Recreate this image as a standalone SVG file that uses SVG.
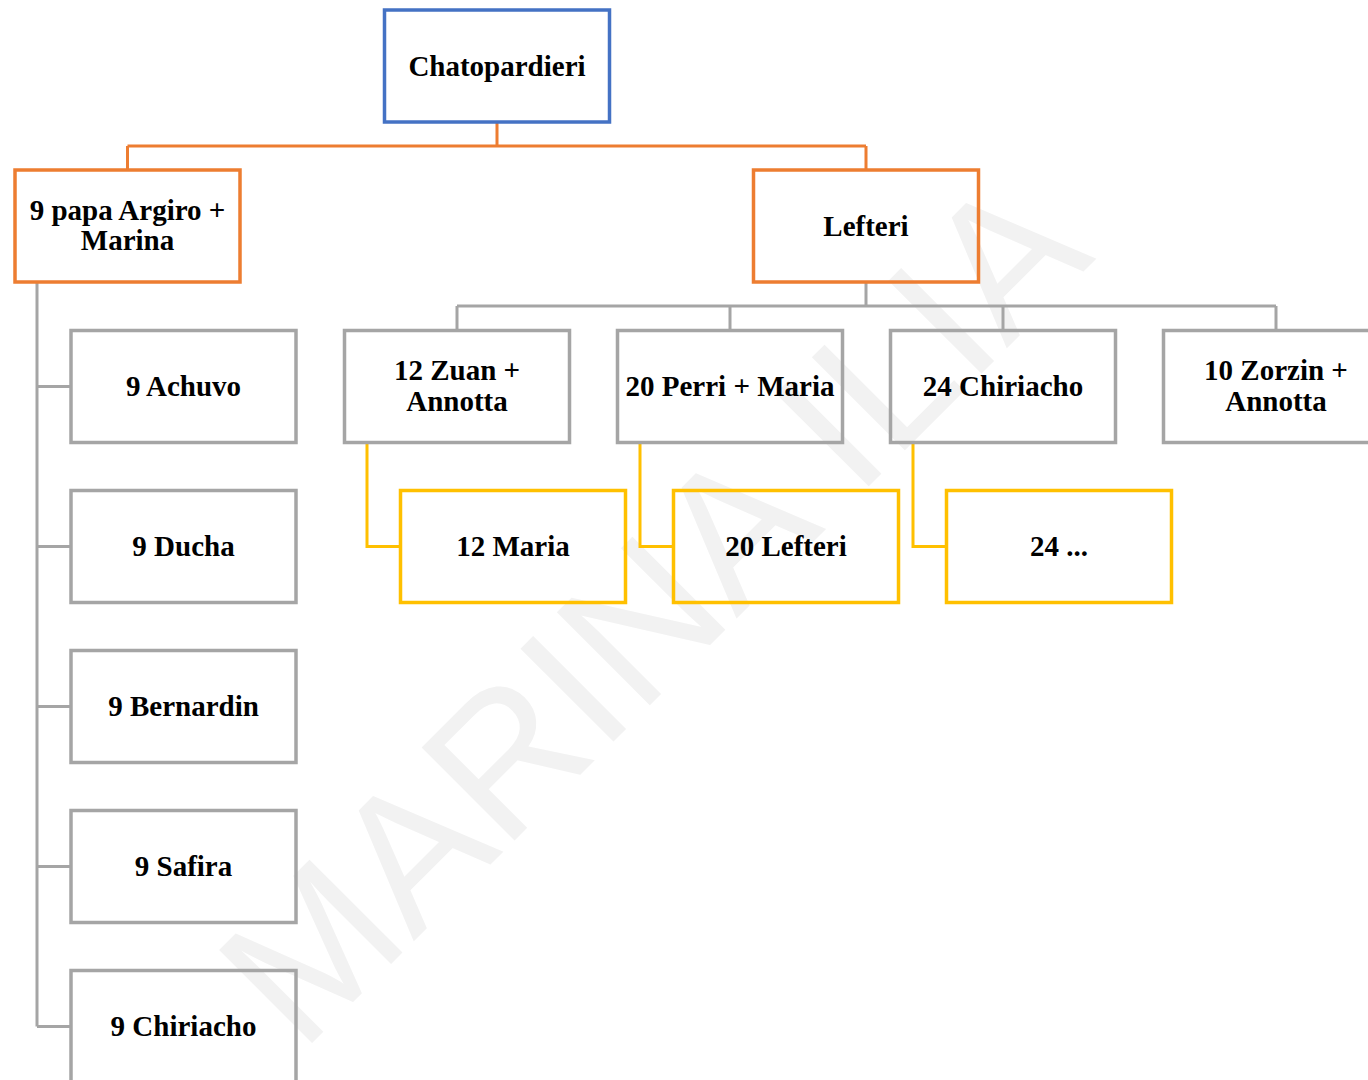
<svg xmlns="http://www.w3.org/2000/svg" width="1368" height="1080" viewBox="0 0 1368 1080">
<style>
.box{fill:none;stroke-width:3.5}
.blue{stroke:#4472C4}
.orange{stroke:#ED7D31}
.gray{stroke:#A5A5A5}
.yellow{stroke:#FFC000}
.lbl{font-family:"Liberation Serif","Times New Roman",serif;font-weight:bold;font-size:29px;fill:#000;text-anchor:middle}
.wm{font-family:"Liberation Sans",Arial,sans-serif;font-size:191px;fill:#f2f2f2}
.con{fill:none;stroke-width:3}
</style>
<rect width="1368" height="1080" fill="#fff"/>
<text class="wm" x="301" y="1054" transform="rotate(-45 301 1054)">MARINA ILIA</text>
<g id="connectors">
<path class="con orange" d="M497 122 V146 M127.5 146 H866 M127.5 146 V170 M866 146 V170"/>
<path class="con gray" d="M37 282 V1026.5 M37 386.5 H71 M37 546.5 H71 M37 706.5 H71 M37 866.5 H71 M37 1026.5 H71"/>
<path class="con gray" d="M866 282 V306 M457 306 H1276 M457 306 V330.5 M730 306 V330.5 M1003 306 V330.5 M1276 306 V330.5"/>
<path class="con yellow" d="M367 442.5 V546.5 H400.5 M640 442.5 V546.5 H673.5 M913 442.5 V546.5 H946.5"/>
</g>
<g id="root"><rect class="box blue" x="384.5" y="10" width="225" height="112"/><text class="lbl" x="497" y="75.5">Chatopardieri</text></g>
<g id="argiro"><rect class="box orange" x="15" y="170" width="225" height="112"/><text class="lbl" x="127.5" y="219.5">9 papa Argiro +</text><text class="lbl" x="127.5" y="250">Marina</text></g>
<g id="lefteri"><rect class="box orange" x="753.5" y="170" width="225" height="112"/><text class="lbl" x="866" y="235.5">Lefteri</text></g>
<g id="achuvo"><rect class="box gray" x="71" y="330.5" width="225" height="112"/><text class="lbl" x="183.5" y="396">9 Achuvo</text></g>
<g id="ducha"><rect class="box gray" x="71" y="490.5" width="225" height="112"/><text class="lbl" x="183.5" y="556">9 Ducha</text></g>
<g id="bernardin"><rect class="box gray" x="71" y="650.5" width="225" height="112"/><text class="lbl" x="183.5" y="716">9 Bernardin</text></g>
<g id="safira"><rect class="box gray" x="71" y="810.5" width="225" height="112"/><text class="lbl" x="183.5" y="876">9 Safira</text></g>
<g id="chiriacho9"><rect class="box gray" x="71" y="970.5" width="225" height="112"/><text class="lbl" x="183.5" y="1036">9 Chiriacho</text></g>
<g id="zuan"><rect class="box gray" x="344.5" y="330.5" width="225" height="112"/><text class="lbl" x="457" y="380">12 Zuan +</text><text class="lbl" x="457" y="410.5">Annotta</text></g>
<g id="perri"><rect class="box gray" x="617.5" y="330.5" width="225" height="112"/><text class="lbl" x="730" y="396">20 Perri + Maria</text></g>
<g id="chiriacho24"><rect class="box gray" x="890.5" y="330.5" width="225" height="112"/><text class="lbl" x="1003" y="396">24 Chiriacho</text></g>
<g id="zorzin"><rect class="box gray" x="1163.5" y="330.5" width="225" height="112"/><text class="lbl" x="1276" y="380">10 Zorzin +</text><text class="lbl" x="1276" y="410.5">Annotta</text></g>
<g id="maria12"><rect class="box yellow" x="400.5" y="490.5" width="225" height="112"/><text class="lbl" x="513" y="556">12 Maria</text></g>
<g id="lefteri20"><rect class="box yellow" x="673.5" y="490.5" width="225" height="112"/><text class="lbl" x="786" y="556">20 Lefteri</text></g>
<g id="dots24"><rect class="box yellow" x="946.5" y="490.5" width="225" height="112"/><text class="lbl" x="1059" y="556">24 ...</text></g>
</svg>
